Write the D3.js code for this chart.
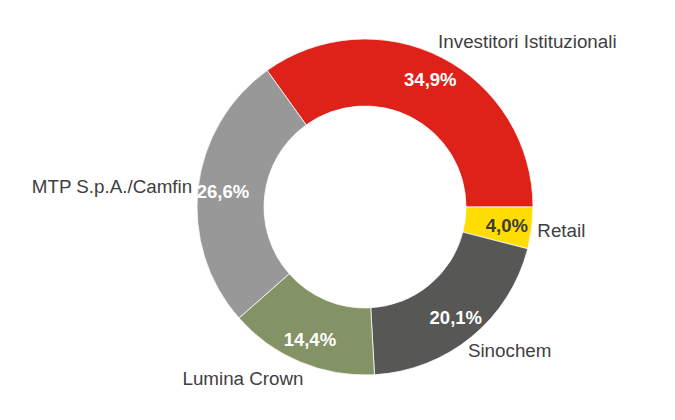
<!DOCTYPE html>
<html>
<head>
<meta charset="utf-8">
<script src="https://cdn.jsdelivr.net/npm/d3@7"></script>
<style>
  html, body { margin: 0; padding: 0; background: #fff; }
  #chart { width: 675px; height: 420px; }
</style>
</head>
<body>
<div id="chart"></div>
<script>
// Dati: quote dell'azionariato (ordine orario, partendo da Investitori Istituzionali)
const categorie = ["Investitori Istituzionali", "Retail", "Sinochem", "Lumina Crown", "MTP S.p.A./Camfin"];
const valori = [34.9, 4.0, 20.1, 14.4, 26.6];
const etichette = ["34,9%", "4,0%", "20,1%", "14,4%", "26,6%"];
const colori = ["#de2119", "#ffdd00", "#575756", "#849365", "#989898"];

// 1. Lienzo
const width = 675, height = 420;
const cx = 365, cy = 207;
const outerR = 168, innerR = 101;
const pctR = 143, labelR = 176;

const svg = d3.select("#chart")
    .append("svg")
    .attr("width", width)
    .attr("height", height);

const g = svg.append("g").attr("transform", `translate(${cx},${cy})`);

// 2. Layout della torta: la prima fetta finisce esattamente a ore 3
const total = d3.sum(valori);
const start = Math.PI / 2 - (valori[0] / total) * 2 * Math.PI;

const pie = d3.pie()
    .value((d) => d.valore)
    .sort(null)
    .startAngle(start)
    .endAngle(start + 2 * Math.PI);

const dati = categorie.map((c, i) => ({ nome: c, valore: valori[i], pct: etichette[i], colore: colori[i] }));
const archi = pie(dati);

const arc = d3.arc().innerRadius(innerR).outerRadius(outerR);

// 3. Fette
g.selectAll("path.fetta")
    .data(archi)
    .join("path")
    .attr("class", "fetta")
    .attr("d", arc)
    .attr("fill", (d) => d.data.colore)
    .attr("stroke", "#fff")
    .attr("stroke-width", 0.75);

// 4. Percentuali dentro l'anello
const midAngle = (d) => (d.startAngle + d.endAngle) / 2;

g.selectAll("text.pct")
    .data(archi)
    .join("text")
    .attr("class", "pct")
    .attr("x", (d) => Math.sin(midAngle(d)) * pctR)
    .attr("y", (d) => -Math.cos(midAngle(d)) * pctR)
    .attr("dy", "0.36em")
    .attr("text-anchor", "middle")
    .style("font-family", "'Liberation Sans', Arial, sans-serif")
    .style("font-size", "18.5px")
    .style("font-weight", "bold")
    .attr("fill", (d) => (d.data.nome === "Retail" ? "#3c3c3b" : "#ffffff"))
    .text((d) => d.data.pct);

// 5. Nomi delle categorie all'esterno (box accostato al raggio medio della fetta)
const halfH = 10;
g.selectAll("text.nome")
    .data(archi)
    .join("text")
    .attr("class", "nome")
    .attr("x", (d) => Math.sin(midAngle(d)) * (labelR - 18 * Math.abs(Math.cos(midAngle(d)))))
    .attr("y", (d) => -Math.cos(midAngle(d)) * (labelR + halfH))
    .attr("dy", "0.36em")
    .attr("text-anchor", (d) => (Math.sin(midAngle(d)) >= 0 ? "start" : "end"))
    .style("font-family", "'Liberation Sans', Arial, sans-serif")
    .style("font-size", "18.8px")
    .attr("fill", "#404040")
    .text((d) => d.data.nome);
</script>
</body>
</html>
